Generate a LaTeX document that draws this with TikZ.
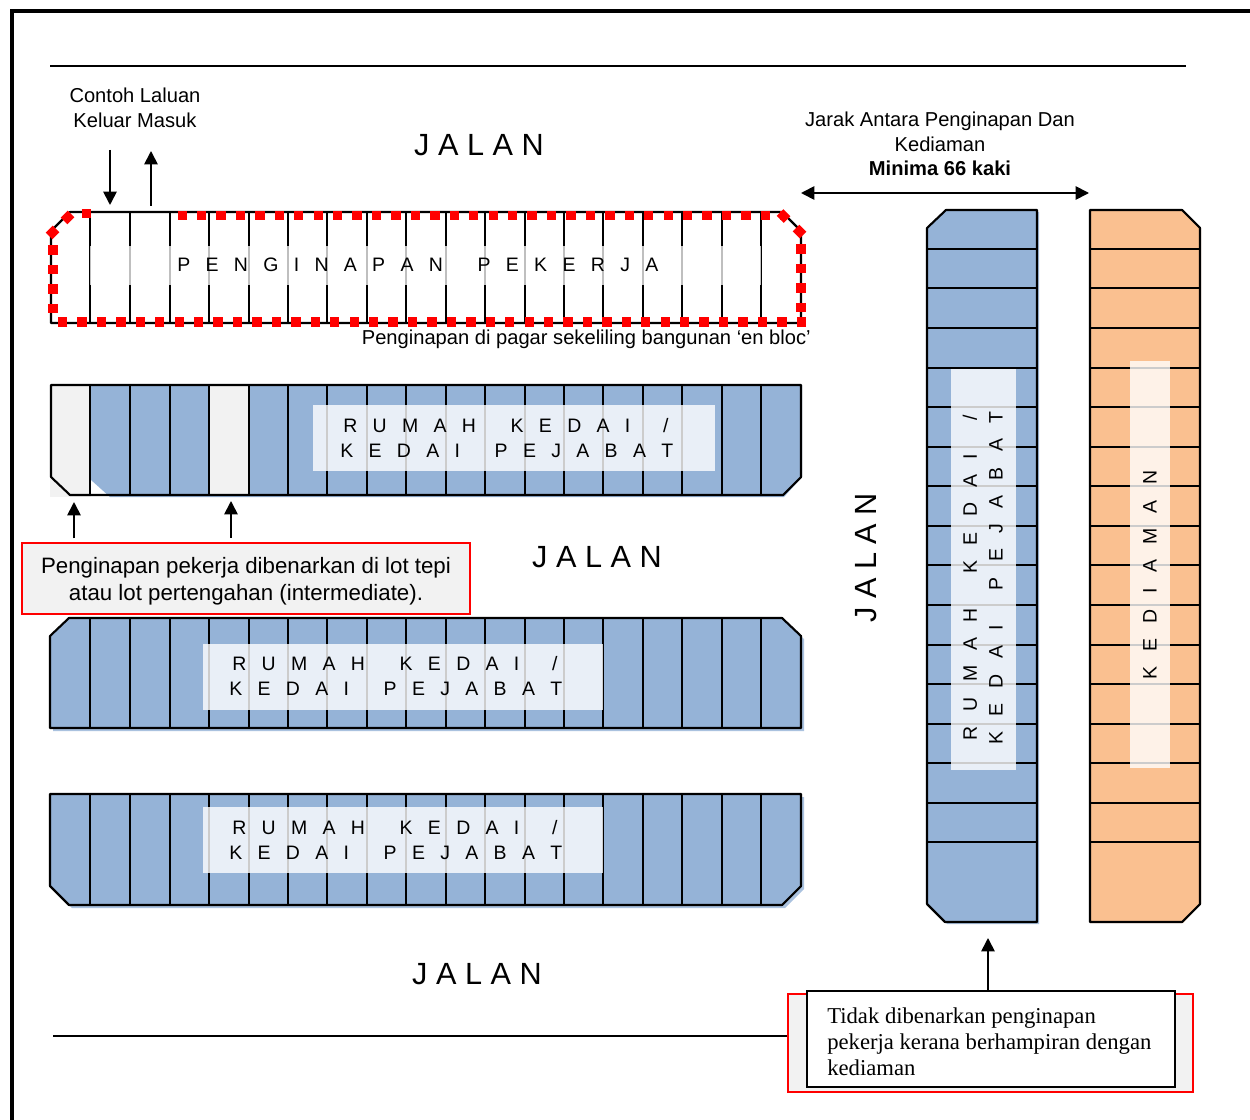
\documentclass[tikz,border=0pt]{standalone}
\usepackage{fontspec}
\setmainfont{Liberation Sans}
\newfontfamily\spaced[LetterSpace=51]{Liberation Sans}
\newfontfamily\serifbox{Liberation Serif}
\usetikzlibrary{arrows.meta}
\definecolor{lotblue}{HTML}{95B3D7}
\definecolor{lotorange}{HTML}{FAC090}
\definecolor{lotgrey}{HTML}{F2F2F2}
\definecolor{dashred}{HTML}{FF0000}
\newcommand{\wgap}{~~\kern3pt }
\newcommand{\rumahkedai}{R U M A H\wgap K E D A I~~\kern1.5pt /}
\newcommand{\kedaipejabat}{K E D A I~~\kern3pt P E J A B A T}
\tikzset{
  x=0.75pt,y=-0.75pt,
  lotline/.style={draw=black,line width=1.6pt,line join=round},
  rule/.style={draw=black,line width=1.3pt},
  arrowline/.style={draw=black,line width=1.3pt,-{Triangle[length=10pt,width=10pt]}},
  lottext/.style={inner sep=0pt,font=\spaced\fontsize{14.6}{18}\selectfont},
  jalantext/.style={inner sep=0pt,font=\fontsize{23}{26}\selectfont},
  plain/.style={inner sep=0pt,align=center,font=\fontsize{15.1}{18}\selectfont},
  overlay/.style={fill=white,fill opacity=.8},
  redbox/.style={draw=dashred,line width=1.5pt,fill=lotgrey,outer sep=0pt},
  reddash/.style={draw=dashred,line width=7pt,dash pattern=on 7pt off 7.58pt},
  redsquare/.style={draw=dashred,line width=7pt},
}
\begin{document}
\begin{tikzpicture}
\useasboundingbox (0,0) rectangle (1250,1120);
% frame and rules
\draw[line width=3pt,line cap=rect] (12,1120) -- (12,11) -- (1250,11);
\coordinate (ruleTopL) at (50,66); \coordinate (ruleTopR) at (1186,66);
\draw[rule] (ruleTopL) -- (ruleTopR);
\coordinate (ruleBotL) at (53,1036); \coordinate (ruleBotR) at (788,1036);
\draw[rule] (ruleBotL) -- (ruleBotR);

% row 1: workers' quarters
\draw[lotline] (70,212) -- (782,212) -- (801,231) -- (801,323) -- (51,323) -- (51,231) -- cycle;
\foreach \x in {90,130,170,209,249,288,327,367,406,446,485,525,564,603,643,682,722,761}
  \draw[lotline] (\x,212) -- (\x,323);
\fill[fill=white,fill opacity=.75] (90,246) rectangle (761,285);
\node[lottext,anchor=west] (t1) at (177,265) {P E N G I N A P A N\wgap P E K E R J A};

% row 2
\fill[lotgrey] (50,385) -- (91,385) -- (91,497) -- (50,497) -- cycle;
\fill[lotblue] (91,385) -- (802,385) -- (802,477) -- (784,497) -- (110,497) -- (91,480) -- cycle;
\fill[lotgrey] (209,385) rectangle (248,495);
\draw[lotline] (51,385) -- (801,385) -- (801,477) -- (783,495) -- (70,495) -- (51,477) -- cycle;
\foreach \x in {90,130,170,209,249,288,327,367,406,446,485,525,564,603,643,682,722,761}
  \draw[lotline] (\x,385) -- (\x,495);
\fill[overlay] (313,405) rectangle (715,471);

% row 3
\fill[lotblue!80] (72,621) -- (785,621) -- (804,639) -- (804,731) -- (53,731) -- (53,639) -- cycle;
\draw[lotline,fill=lotblue] (69,618) -- (782,618) -- (801,636) -- (801,728) -- (50,728) -- (50,636) -- cycle;
\foreach \x in {90,130,170,209,249,288,327,367,406,446,485,525,564,603,643,682,722,761}
  \draw[lotline] (\x,618) -- (\x,728);
\fill[overlay] (203,644) rectangle (603,710);

% row 4
\fill[lotblue!80] (53,797) -- (804,797) -- (804,889) -- (785,908) -- (72,908) -- (53,889) -- cycle;
\draw[lotline,fill=lotblue] (50,794) -- (801,794) -- (801,886) -- (782,905) -- (69,905) -- (50,886) -- cycle;
\foreach \x in {90,130,170,209,249,288,327,367,406,446,485,525,564,603,643,682,722,761}
  \draw[lotline] (\x,794) -- (\x,905);
\fill[overlay] (203,807) rectangle (603,873);

% vertical block: blue
\fill[lotblue!80] (947,212) -- (1039,212) -- (1039,924) -- (947,924) -- (929,906) -- (929,230) -- cycle;
\draw[lotline,fill=lotblue] (946,210) -- (1037,210) -- (1037,922) -- (945,922) -- (927,904) -- (927,228) -- cycle;
\foreach \y in {249,288,328,368,407,447,486,526,565,605,645,684,724,763,803,842}
  \draw[lotline] (927,\y) -- (1037,\y);
\fill[overlay] (951,369) rectangle (1016,770);

% vertical block: orange
\fill[lotorange!80] (1090,211) -- (1183,211) -- (1201,228) -- (1201,904) -- (1183,923) -- (1090,923) -- cycle;
\draw[lotline,fill=lotorange] (1090,210) -- (1182,210) -- (1200,228) -- (1200,904) -- (1182,922) -- (1090,922) -- cycle;
\foreach \y in {249,288,328,368,407,447,486,526,565,605,645,684,724,763,803,842}
  \draw[lotline] (1090,\y) -- (1200,\y);
\fill[overlay] (1130,361) rectangle (1170,768);

% red dashed boundary, with the opening at the access lots
\draw[reddash] (177.5,215.5) -- (782,215.5);
\draw[reddash] (801,244.5) -- (801,318);
\draw[reddash] (806,322) -- (53,322);
\draw[reddash] (53,245.5) -- (53,318);
\draw[redsquare] (780,212.5) -- (787,219.5);
\draw[redsquare] (796,228) -- (803,235);
\draw[redsquare] (64,221) -- (71,214);
\draw[redsquare] (49,236) -- (56,229);
\draw[redsquare] (81.5,213.5) -- (90.5,213.5);

% lot texts
\node[lottext,anchor=west] (t2a) at (343,426) {\rumahkedai};
\node[lottext,anchor=west] (t2b) at (340,451) {\kedaipejabat};
\node[lottext,anchor=west] (t3a) at (232,664) {\rumahkedai};
\node[lottext,anchor=west] (t3b) at (229,689) {\kedaipejabat};
\node[lottext,anchor=west] (t4a) at (232,828) {\rumahkedai};
\node[lottext,anchor=west] (t4b) at (229,853) {\kedaipejabat};
\node[lottext,rotate=90,anchor=west] (t5a) at (970,741) {\rumahkedai};
\node[lottext,rotate=90,anchor=west] (t5b) at (996,745) {\kedaipejabat};
\node[lottext,rotate=90,anchor=west] (t6) at (1150,680) {K E D I A M A N};

% road labels
\node[jalantext] (j1) at (479,145) {J A L A N};
\node[jalantext] (j2) at (597,557) {J A L A N};
\node[jalantext] (j3) at (477,974) {J A L A N};
\node[jalantext,rotate=90] (j4) at (866,558) {J A L A N};

% annotations
\node[plain] (contoh) at (135,108) {Contoh Laluan\\[1pt]Keluar Masuk};
\coordinate (inA) at (110,150); \coordinate (inB) at (110,205);
\coordinate (outA) at (151,206); \coordinate (outB) at (151,151);
\draw[arrowline] (inA) -- (inB);
\draw[arrowline] (outA) -- (outB);
\node[plain,anchor=east] (enbloc) at (811,339) {Penginapan di pagar sekeliling bangunan ‘en bloc’};
\node[plain] (jarak) at (940,144) {Jarak Antara Penginapan Dan\\[0.2pt]Kediaman\\[0.2pt]\textbf{Minima 66 kaki}};
\coordinate (spanL) at (801,193); \coordinate (spanR) at (1089,193);
\draw[arrowline,{Triangle[length=10pt,width=10pt]}-{Triangle[length=10pt,width=10pt]}] (spanL) -- (spanR);

% callout: edge or intermediate lots
\node[redbox,minimum width=336pt,minimum height=53pt,inner sep=0pt,anchor=north west] (callout) at (22,543) {};
\node[plain,font=\fontsize{16.7}{20.5}\selectfont] (calloutT) at (246,581) {Penginapan pekerja dibenarkan di lot tepi\\atau lot pertengahan (intermediate).};
\coordinate (lotEdge) at (74,502); \coordinate (lotMid) at (231,501);
\draw[arrowline] (lotEdge |- callout.north) ++(0,3.5pt) -- (lotEdge);
\draw[arrowline] (lotMid |- callout.north) ++(0,4pt) -- (lotMid);

% callout: not allowed
\node[redbox,minimum width=303.75pt,minimum height=73.5pt,inner sep=0pt,anchor=north west] (noteBack) at (788,994) {};
\node[draw=black,line width=1.3pt,fill=white,outer sep=0pt,minimum width=276pt,minimum height=72pt,inner sep=0pt,anchor=north west] (note) at (807,991) {};
\node[inner sep=0pt,anchor=west,align=left,font=\serifbox\fontsize{17}{19.6}\selectfont] (noteT) at (827,1042) {Tidak dibenarkan penginapan\\pekerja kerana berhampiran dengan\\kediaman};
\coordinate (blockTip) at (988,938);
\draw[arrowline] (blockTip |- note.north) -- (blockTip);
\end{tikzpicture}
\end{document}
